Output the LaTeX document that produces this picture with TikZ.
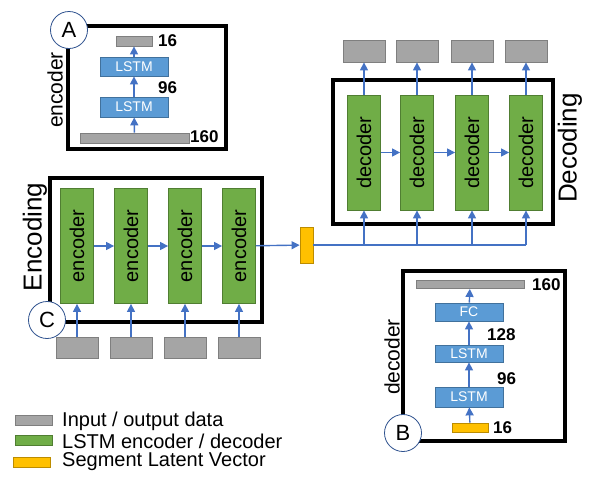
\documentclass[tikz,border=0pt]{standalone}
\usepackage{fontspec}
\setmainfont{Liberation Sans}
\usetikzlibrary{arrows.meta,positioning}
\definecolor{greyfill}{HTML}{A5A5A5}
\definecolor{greyline}{HTML}{7F7F7F}
\definecolor{greenfill}{HTML}{70AD47}
\definecolor{greenline}{HTML}{507E32}
\definecolor{bluefill}{HTML}{5B9BD5}
\definecolor{blueline}{HTML}{41719C}
\definecolor{orangefill}{HTML}{FFC000}
\definecolor{orangeline}{HTML}{BC8C00}
\definecolor{arrowblue}{HTML}{4472C4}
\definecolor{navy}{HTML}{2F528F}

\begin{document}
\begin{tikzpicture}[x=1pt,y=-1pt,
    frame/.style={draw=black,line width=3.5pt},
    data/.style={draw=greyline,fill=greyfill,line width=0.8pt,inner sep=0},
    cell/.style={draw=greenline,fill=greenfill,line width=0.8pt,rotate=90,
        minimum width=115pt,minimum height=33pt,inner sep=0,
        font=\fontsize{20}{20}\selectfont},
    layer/.style={draw=blueline,fill=bluefill,line width=0.8pt,text=white,
        minimum width=68pt,inner sep=0,font=\fontsize{14}{14}\selectfont},
    latent/.style={draw=orangeline,fill=orangefill,line width=0.8pt,inner sep=0},
    tag/.style={circle,draw=navy,fill=white,line width=0.8pt,minimum size=37pt,
        inner sep=0,font=\fontsize{22}{22}\selectfont},
    dim/.style={anchor=west,inner sep=0,font=\bfseries\fontsize{17}{17}\selectfont},
    side/.style={rotate=90,inner sep=0,font=\fontsize{21}{21}\selectfont},
    title/.style={rotate=90,inner sep=0,font=\fontsize{26}{26}\selectfont},
    keytext/.style={anchor=west,inner sep=0,font=\fontsize{20}{20}\selectfont},
    link/.style={draw=arrowblue,line width=1.4pt},
    arr/.style={link,-{Triangle[length=8pt,width=8pt]}}]
    \useasboundingbox (0,0) rectangle (594,483);

    % Box A: encoder detail
    \draw[frame] (68,26) rectangle (226,149);
    \node[data,minimum width=109pt,minimum height=10pt] (a0) at (134.5,138) {};
    \node[layer,minimum height=20pt] (a1) at (134,107) {LSTM};
    \node[layer,minimum height=19pt] (a2) at (134,66.5) {LSTM};
    \node[data,minimum width=36pt,minimum height=10pt] (a3) at (134,41) {};
    \draw[arr] (a0) -- (a1);
    \draw[arr] (a1) -- (a2);
    \draw[arr] (a2) -- (a3);
    \node[dim] (a0dim) at (190,137) {160};
    \node[dim] (a1dim) at (158,88) {96};
    \node[dim] (a3dim) at (158,41) {16};
    \node[side] (aside) at (55,90) {encoder};
    \node[tag] (tagA) at (69,30) {A};

    % Encoding
    \draw[frame] (50,178) rectangle (262,322);
    \foreach \i/\x in {1/77,2/131,3/185,4/239} {
        \node[cell] (enc\i) at (\x,246) {encoder};
        \node[data,minimum width=42pt,minimum height=21pt] (in\i) at (\x,347.5) {};
        \draw[arr] (in\i) -- (enc\i);
    }
    \foreach \i/\j in {1/2,2/3,3/4}
        \draw[arr] (enc\i) -- (enc\j);
    \node[title] (enctitle) at (35,237) {Encoding};
    \node[tag] (tagC) at (47,320) {C};

    % Latent vector
    \node[latent,minimum width=13pt,minimum height=36pt] (lat) at (306.5,245) {};
    \draw[arr] (enc4) -- (lat);

    % Decoding
    \draw[frame] (333,80) rectangle (553,224);
    \foreach \i/\x in {1/364,2/417,3/472,4/526} {
        \node[cell] (dec\i) at (\x,152.5) {decoder};
        \node[data,minimum width=42pt,minimum height=22pt] (out\i) at (\x,51) {};
        \draw[arr] (dec\i) -- (out\i);
        \draw[arr] (lat.east -| dec\i) -- (dec\i);
    }
    \draw[link] (lat.east) -- (lat.east -| dec4);
    \foreach \i/\j in {1/2,2/3,3/4}
        \draw[arr] (dec\i) -- (dec\j);
    \node[title] (dectitle) at (570,148) {Decoding};

    % Box B: decoder detail
    \draw[frame] (403,271) rectangle (565,441);
    \node[latent,minimum width=36pt,minimum height=9pt] (b0) at (470,427.5) {};
    \node[layer,minimum height=20pt] (b1) at (469,397) {LSTM};
    \node[layer,minimum height=17pt] (b2) at (469,353.5) {LSTM};
    \node[layer,minimum height=18pt] (b3) at (469,312) {FC};
    \node[data,minimum width=108pt,minimum height=8pt] (b4) at (470,284.5) {};
    \draw[arr] (b0) -- (b1);
    \draw[arr] (b1) -- (b2);
    \draw[arr] (b2) -- (b3);
    \draw[arr] (b3) -- (b4);
    \node[dim] (b0dim) at (493,428) {16};
    \node[dim] (b1dim) at (497,379) {96};
    \node[dim] (b2dim) at (487,335) {128};
    \node[dim] (b4dim) at (532,285) {160};
    \node[side] (bside) at (392,357) {decoder};
    \node[tag] (tagB) at (403,433) {B};

    % Legend
    \node[data,minimum width=37pt,minimum height=10pt] (keydata) at (33.5,420) {};
    \node[data,draw=greenline,fill=greenfill,minimum width=37pt,minimum height=10pt] (keycell) at (33.5,440.5) {};
    \node[latent,minimum width=37pt,minimum height=10pt] (keylat) at (31.5,462) {};
    \node[keytext] (keydatatext) at (62,421) {Input / output data};
    \node[keytext] (keycelltext) at (62,441) {LSTM encoder / decoder};
    \node[keytext] (keylattext) at (62,462) {Segment Latent Vector};
\end{tikzpicture}
\end{document}
